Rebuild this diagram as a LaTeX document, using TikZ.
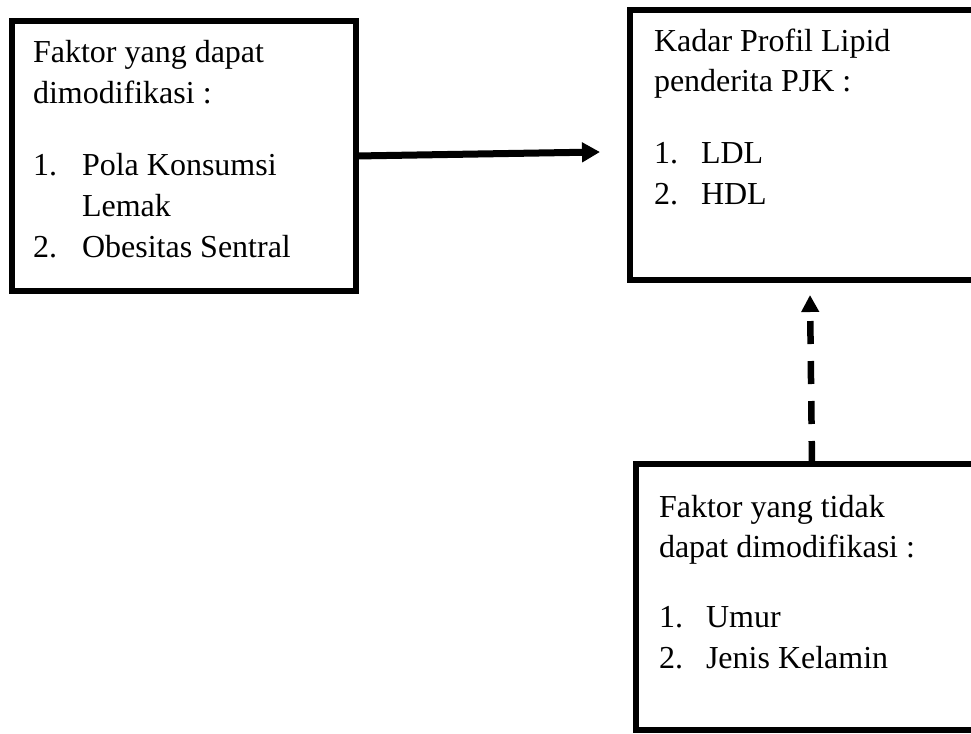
\documentclass[tikz,border=0pt]{standalone}
\usepackage{fontspec}
\setmainfont{Liberation Serif}
\usetikzlibrary{arrows.meta,calc}
\tikzset{
  box/.style={draw=black, line width=6pt, rectangle, inner sep=0pt, outer sep=0pt, fill=white},
  txt/.style={anchor=base west, inner sep=0pt, outer sep=0pt, font=\fontsize{32pt}{41pt}\selectfont},
  solidarrow/.style={line width=7pt, -{Triangle[length=18pt,width=19pt]}},
  dasharrow/.style={line width=6.5pt, dash pattern=on 23pt off 17pt, -{Triangle[length=17pt,width=17pt]}}
}
\begin{document}
\begin{tikzpicture}[x=1pt,y=-1pt]
\useasboundingbox (0,0) rectangle (971,733);
\clip (0,0) rectangle (971,733);
\fill[white] (0,0) rectangle (971,733);
% boxes
\node[box, minimum width=344pt, minimum height=270pt] (lbox) at (184,156) {};
\node[box, minimum width=400pt, minimum height=270pt] (rbox) at (830,145) {};
\node[box, minimum width=400pt, minimum height=266pt] (bbox) at (836,597) {};
% left box text
\node[txt] (l1) at (33,63) {Faktor yang dapat};
\node[txt] (l2) at (33,103) {dimodifikasi :};
\node[txt] (ln1) at (33,175) {1.};
\node[txt] (li1) at (82,175) {Pola Konsumsi};
\node[txt] (li1b) at (82,216) {Lemak};
\node[txt] (ln2) at (33,257) {2.};
\node[txt] (li2) at (82,257) {Obesitas Sentral};
% right top text
\node[txt] (r1) at (654,52) {Kadar Profil Lipid};
\node[txt] (r2) at (654,92) {penderita PJK :};
\node[txt] (rn1) at (654,163) {1.};
\node[txt] (ri1) at (701,163) {LDL};
\node[txt] (rn2) at (654,204) {2.};
\node[txt] (ri2) at (701,204) {HDL};
% bottom text
\node[txt] (b1) at (659,517) {Faktor yang tidak};
\node[txt] (b2) at (659,557) {dapat dimodifikasi :};
\node[txt] (bn1) at (659,627) {1.};
\node[txt] (bi1) at (706,627) {Umur};
\node[txt] (bn2) at (659,668) {2.};
\node[txt] (bi2) at (706,668) {Jenis Kelamin};
% connectors
\coordinate (solidend) at (600,152);
\coordinate (dashstart) at ($(bbox.north west)+(176,0)$);
\coordinate (dashend) at (810,295);
\draw[solidarrow] (lbox.east) -- (solidend);
\draw[dasharrow] (dashstart) -- (dashend);
\end{tikzpicture}
\end{document}
